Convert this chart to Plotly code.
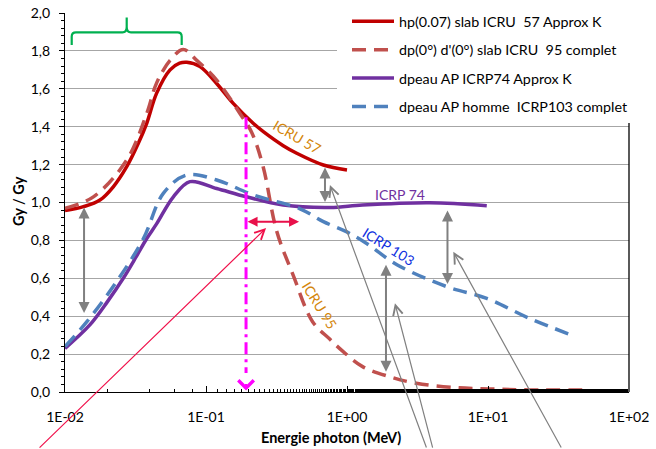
import math
import plotly.graph_objects as go

# ---------------- data (photon energy in MeV, ratio Gy/Gy) ----------------
e_hp07 = [0.01, 0.0135, 0.0177, 0.022, 0.0274, 0.033, 0.038, 0.0446, 0.0556, 0.065,
          0.073, 0.0906, 0.119, 0.156, 0.216, 0.255, 0.353, 0.44, 0.68, 1.0]
v_hp07 = [0.957, 0.978, 1.013, 1.083, 1.189, 1.31, 1.418, 1.576, 1.70, 1.735,
          1.74, 1.717, 1.628, 1.523, 1.418, 1.374, 1.30, 1.26, 1.198, 1.172]

e_dp0 = [0.01, 0.0159, 0.0274, 0.038, 0.0446, 0.0556, 0.069, 0.086, 0.119, 0.174,
         0.211, 0.254, 0.317, 0.415, 0.57, 0.757, 0.94, 1.29, 2.0, 3.1, 5.9,
         10.3, 19.6, 50.0]
v_dp0 = [0.97, 1.03, 1.224, 1.47, 1.63, 1.75, 1.808, 1.75, 1.646, 1.47,
         1.37, 1.19, 0.85, 0.617, 0.371, 0.278, 0.213, 0.134, 0.081, 0.046, 0.023,
         0.016, 0.011, 0.01]

e_icrp74 = [0.01, 0.015, 0.02, 0.0259, 0.032, 0.038, 0.0446, 0.0587, 0.077, 0.119,
            0.194, 0.353, 0.757, 1.29, 3.87, 9.8]
v_icrp74 = [0.23, 0.354, 0.477, 0.60, 0.714, 0.81, 0.887, 1.03, 1.11, 1.074,
            1.03, 0.987, 0.974, 0.987, 0.999, 0.983]

e_icrp103 = [0.01, 0.0143, 0.0232, 0.036, 0.0498, 0.073, 0.119, 0.216, 0.46, 0.68,
             0.99, 1.37, 2.26, 5.1, 9.8, 19.6, 42.0]
v_icrp103 = [0.24, 0.371, 0.582, 0.81, 1.048, 1.145, 1.119, 1.04, 0.968, 0.899,
             0.846, 0.785, 0.672, 0.556, 0.494, 0.389, 0.292]

series_names = ["hp(0.07) slab ICRU  57 Approx K",
                "dp(0°) d'(0°) slab ICRU  95 complet",
                "dpeau AP ICRP74 Approx K",
                "dpeau AP homme  ICRP103 complet"]

x_tick_vals = [0.01, 0.1, 1, 10, 100]
x_tick_text = ["1E-02", "1E-01", "1E+00", "1E+01", "1E+02"]
y_tick_vals = [0.0, 0.2, 0.4, 0.6, 0.8, 1.0, 1.2, 1.4, 1.6, 1.8, 2.0]
y_tick_text = ["0,0", "0,2", "0,4", "0,6", "0,8", "1,0", "1,2", "1,4", "1,6", "1,8", "2,0"]

# ---------------- styling ----------------
FONT = "Lato, 'Liberation Sans', sans-serif"
W, H = 656, 449
ML, MR, MT, MB = 65, 27, 13, 57
PW, PH = W - ML - MR, H - MT - MB

def paper(px, py):
    """window pixel -> paper coordinates"""
    return (px - ML) / PW, (H - MB - py) / PH

fig = go.Figure()
styles = [
    dict(color="#C00000", width=3.5, dash="solid"),
    dict(color="#C0504D", width=3.5, dash="14px,8px"),
    dict(color="#7030A0", width=3.5, dash="solid"),
    dict(color="#4F81BD", width=3.5, dash="14px,8px"),
]
for i, (e, v) in enumerate([(e_hp07, v_hp07), (e_dp0, v_dp0),
                            (e_icrp74, v_icrp74), (e_icrp103, v_icrp103)]):
    fig.add_trace(go.Scatter(x=e, y=v, mode="lines", name=series_names[i],
                             legendgroup=f"g{i}",
                             line=dict(shape="spline", smoothing=1.0, **styles[i])))

lg = math.log10
annotations = []
GRAY = "#808080"
# double gray arrows
for E, ya, yb in [(0.01365, 0.981, 0.417), (0.698, 1.193, 1.003),
                  (5.16, 0.966, 0.570), (1.89, 0.679, 0.107)]:
    annotations.append(dict(x=lg(E), y=yb, ax=lg(E), ay=ya, xref="x", yref="y",
                            axref="x", ayref="y", text="", showarrow=True,
                            arrowhead=2, startarrowhead=2, arrowside="end+start",
                            arrowsize=1.1, startarrowsize=1.1,
                            arrowwidth=2, arrowcolor=GRAY))
# thin gray leader lines coming from below
for (hx, hy), (tx, ty) in [((-0.121, 1.092), (0.567, -0.301)),
                           ((0.340, 0.468), (0.610, -0.301)),
                           ((0.754, 0.740), (1.525, -0.301))]:
    annotations.append(dict(x=hx, y=hy, ax=tx, ay=ty, xref="x", yref="y",
                            axref="x", ayref="y", text="", showarrow=True,
                            arrowhead=5, arrowsize=1.6, arrowwidth=1.2,
                            arrowcolor=GRAY))
# thin red leader line
annotations.append(dict(x=-0.574, y=0.865, ax=-2.191, ay=-0.301, xref="x", yref="y",
                        axref="x", ayref="y", text="", showarrow=True,
                        arrowhead=5, arrowsize=1.6, arrowwidth=1.2,
                        arrowcolor="#F0104A"))
# red horizontal double arrow
annotations.append(dict(x=-0.340, y=0.899, ax=-0.716, ay=0.899, xref="x", yref="y",
                        axref="x", ayref="y", text="", showarrow=True,
                        arrowhead=2, startarrowhead=2, arrowside="end+start",
                        arrowsize=1.0, startarrowsize=1.0,
                        arrowwidth=2, arrowcolor="#E8104A"))
# magenta arrow head
annotations.append(dict(x=-0.716, y=0.008, ax=-0.716, ay=0.05, xref="x", yref="y",
                        axref="x", ayref="y", text="", showarrow=True,
                        arrowhead=4, arrowsize=1.3, arrowwidth=2.3,
                        arrowcolor="#FF00FF"))
# curve labels
ORANGE = "#D4860B"
for txt, xx, yy, ang, col in [("ICRU 57", -0.357, 1.347, 30, ORANGE),
                              ("ICRP 74", 0.376, 1.043, 0, "#7030A0"),
                              ("ICRP 103", 0.298, 0.770, 32, "#1030E0"),
                              ("ICRU 95", -0.191, 0.459, 58, ORANGE)]:
    annotations.append(dict(x=xx, y=yy, xref="x", yref="y", text=txt, showarrow=False,
                            xanchor="center", yanchor="middle",
                            textangle=ang, font=dict(family=FONT, size=14, color=col)))
# axis titles
tx, ty = paper(331, 437)
annotations.append(dict(x=tx, y=ty, xref="paper", yref="paper", text="<b>Energie photon (MeV)</b>",
                        showarrow=False, xanchor="center", yanchor="middle",
                        font=dict(family=FONT, size=14.5, color="#000000")))
tx, ty = paper(18, 201)
annotations.append(dict(x=tx, y=ty, xref="paper", yref="paper", text="<b>Gy / Gy</b>",
                        showarrow=False, textangle=-90, xanchor="center", yanchor="middle",
                        font=dict(family=FONT, size=14.5, color="#000000")))

# green brace (paper coords)
def P(px, py):
    a, b = paper(px, py)
    return f"{a:.4f},{b:.4f}"
brace = (f"M{P(71.7,45)} L{P(71.7,36.5)} Q{P(71.7,32.3)} {P(76,32.3)} L{P(122.5,32.3)} "
         f"Q{P(126.7,32.3)} {P(126.7,27)} L{P(126.7,17.5)} M{P(126.7,27)} "
         f"Q{P(126.7,32.3)} {P(131,32.3)} L{P(177.5,32.3)} Q{P(181.7,32.3)} {P(181.7,36.5)} "
         f"L{P(181.7,45)}")
shapes = [
    dict(type="path", xref="paper", yref="paper", path=brace,
         line=dict(color="#00B050", width=2.2)),
    dict(type="line", xref="x", yref="y", x0=10 ** -0.716, x1=10 ** -0.716, y0=1.45, y1=0.1,
         line=dict(color="#FF00FF", width=3, dash="12px,5px,3px,5px")),
    dict(type="line", xref="paper", yref="paper", x0=1, x1=1, y0=0, y1=1,
         line=dict(color="#000000", width=1.3), layer="above"),
]

fig.update_layout(
    width=W, height=H,
    margin=dict(l=ML, r=MR, t=MT, b=MB, autoexpand=False),
    paper_bgcolor="white", plot_bgcolor="white",
    font=dict(family=FONT, size=14, color="#000000"),
    showlegend=True,
    legend=dict(x=paper(337, 0)[0], y=paper(0, 5.5)[1], xanchor="left", yanchor="top",
                bgcolor="white", borderwidth=0, font=dict(family=FONT, size=14.3),
                tracegroupgap=6.8, itemwidth=42, indentation=10, traceorder="grouped"),
    annotations=annotations, shapes=shapes,
    xaxis=dict(type="log", range=[-2, 2], tickvals=x_tick_vals, ticktext=x_tick_text,
               showgrid=False, showline=True, linecolor="#000000", linewidth=1.3,
               ticks="inside", ticklen=6, tickwidth=1.3, tickcolor="#000000",
               ticklabelstandoff=12, ticklabeloverflow="allow",
               minor=dict(ticks="inside", ticklen=3, tickcolor="#000000", showgrid=False),
               tickfont=dict(family=FONT, size=14), zeroline=False),
    yaxis=dict(range=[0, 2], tickvals=y_tick_vals, ticktext=y_tick_text,
               showgrid=True, gridcolor="#A6A6A6", gridwidth=1,
               showline=True, linecolor="#000000", linewidth=1.3,
               ticks="outside", ticklen=5, tickwidth=1.3, tickcolor="#000000",
               ticklabelstandoff=6, ticklabeloverflow="allow",
               minor=dict(ticks="outside", ticklen=3, dtick=0.04, tickcolor="#000000",
                          showgrid=False),
               tickfont=dict(family=FONT, size=14), zeroline=False),
)
# hide the mode bar and remove the browser's default 8px page margin
fig.write_html("out.html", config={"displayModeBar": False},
               post_script="document.body.style.margin='0px';")
